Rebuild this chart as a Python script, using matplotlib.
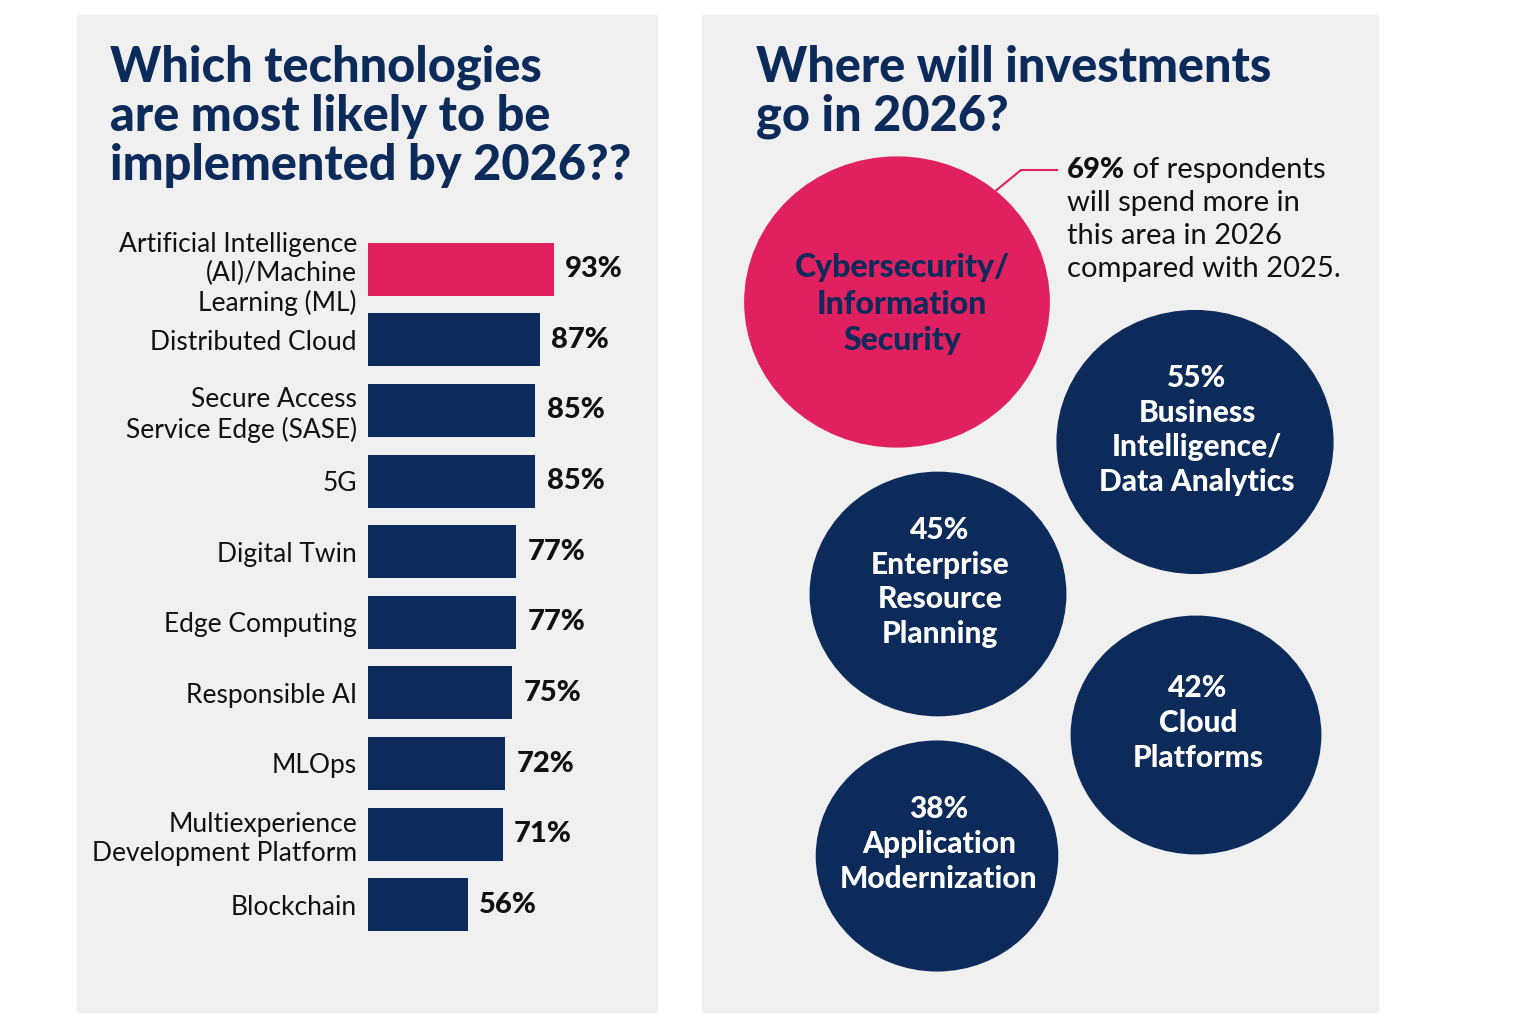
import matplotlib
matplotlib.use("Agg")
import matplotlib.pyplot as plt
from matplotlib.patches import Rectangle, Ellipse
import numpy as np

plt.rcParams['font.family'] = ['Lato', 'DejaVu Sans']

NAVY = "#0d2b5a"
PINK = "#e0205f"
PANEL = "#f0f0f0"
INK = "#111111"

# left chart data
tech_labels = ["Artificial Intelligence\n(AI)/Machine\nLearning (ML)", "Distributed Cloud",
               "Secure Access\nService Edge (SASE)", "5G", "Digital Twin", "Edge Computing",
               "Responsible AI", "MLOps", "Multiexperience\nDevelopment Platform", "Blockchain"]
tech_values = [93, 87, 85, 85, 77, 77, 75, 72, 71, 56]

# right chart data
invest_labels = ["Cybersecurity/\nInformation\nSecurity", "Business\nIntelligence/\nData Analytics",
                 "Enterprise\nResource\nPlanning", "Cloud\nPlatforms", "Application\nModernization"]
invest_values = [69, 55, 45, 42, 38]
callout_lines = ["of respondents", "will spend more in", "this area in 2026", "compared with 2025."]
# bubble layout (pixel centres)
bubble_pos = [(897, 302), (1195, 442), (938, 594), (1196, 735), (937, 856)]

W, H = 1536, 1024
fig = plt.figure(figsize=(W / 100, H / 100), dpi=100)
fig.patch.set_facecolor("white")

# background canvas in pixel coords
bg = fig.add_axes([0, 0, 1, 1])
bg.set_xlim(0, W)
bg.set_ylim(H, 0)
bg.axis("off")
bg.add_patch(Rectangle((77, 15), 580, 997, color=PANEL, zorder=0))
bg.add_patch(Rectangle((702, 15), 676, 997, color=PANEL, zorder=0))

bg.text(110, 45, "Which technologies\nare most likely to be\nimplemented by 2026??", color=NAVY,
        fontsize=35, fontweight="black", va="top", ha="left", linespacing=1.1)
bg.text(756, 45, "Where will investments\ngo in 2026?", color=NAVY,
        fontsize=35, fontweight="black", va="top", ha="left", linespacing=1.1)

# bar chart
ax = fig.add_axes([368 / W, 1 - 940 / H, 300 / W, 706 / H])
ax.patch.set_alpha(0)
y = np.arange(len(tech_values))
colors = [PINK] + [NAVY] * (len(tech_values) - 1)
ax.barh(y, tech_values, height=0.75, color=colors)
ax.set_xlim(13, 13 + 300 / 2.32)
ax.set_ylim(len(tech_values) - 0.5, -0.5)
ax.set_yticks(y)
ax.set_yticklabels(tech_labels, fontsize=19, color=INK, linespacing=1.2)
ax.tick_params(axis="y", length=0, pad=8)
ax.set_xticks([])
for s in ax.spines.values():
    s.set_visible(False)
for yi, v in zip(y, tech_values):
    ax.text(v + 5, yi, f"{v}%", va="center", ha="left", fontsize=21, fontweight="black", color=INK)

# bubbles
for i, (lab, v, (cx, cy)) in enumerate(zip(invest_labels, invest_values, bubble_pos)):
    ry = 78 + 0.97 * v
    rx = ry * 1.05
    fc = PINK if i == 0 else NAVY
    bg.add_patch(Ellipse((cx, cy), 2 * rx, 2 * ry, color=fc, zorder=2))
    if i == 0:
        bg.text(cx + 5, cy + 2, lab, ha="center", va="center", fontsize=23, fontweight="black",
                color=NAVY, linespacing=1.3, zorder=3)
    else:
        bg.text(cx + 2, cy - 12, f"{v}%\n{lab}", ha="center", va="center", fontsize=21.5,
                fontweight="black", color="white", linespacing=1.3, zorder=3)

# call-out
bg.plot([993, 1021, 1057], [193, 170, 170], color=PINK, lw=1.5, zorder=1)
t69 = bg.text(1067, 178, f"{invest_values[0]}%", ha="left", va="baseline", fontsize=21,
              fontweight="black", color=INK)
bg.annotate(" " + callout_lines[0], xy=(1, 0), xycoords=t69, ha="left", va="bottom",
            fontsize=21, color=INK)
for k, line in enumerate(callout_lines[1:], start=1):
    bg.text(1067, 178 + 33 * k, line, ha="left", va="baseline", fontsize=21, color=INK)

fig.savefig("out.png", dpi=100, facecolor="white")
